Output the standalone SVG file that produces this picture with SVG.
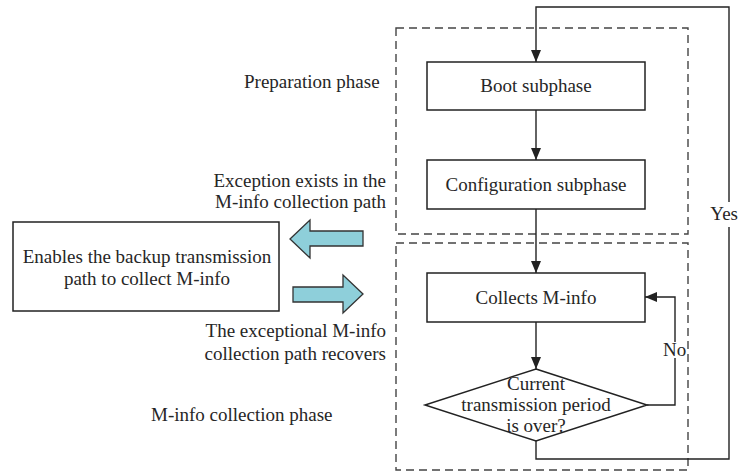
<svg xmlns="http://www.w3.org/2000/svg" width="740" height="472" viewBox="0 0 740 472">
<style>
text{font-family:"Liberation Serif","DejaVu Serif",serif;font-size:19px;fill:#262626}
.c{text-anchor:middle}
.r{text-anchor:end}
.box{fill:#fff;stroke:#222;stroke-width:1.5}
.dash{fill:none;stroke:#444;stroke-width:1.4;stroke-dasharray:8 5}
.ln{fill:none;stroke:#222;stroke-width:1.4}
.blk{fill:#8ecfda;stroke:#333;stroke-width:1.3;stroke-linejoin:miter}
</style>
<defs>
<marker id="ah" markerUnits="userSpaceOnUse" markerWidth="12" markerHeight="10" refX="12" refY="5" orient="auto">
<path d="M0,0 L12,5 L0,10 z" fill="#222"/>
</marker>
</defs>
<g id="phase-prep">
<rect class="dash" x="396" y="28" width="292" height="206"/>
<text x="244" y="88">Preparation phase</text>
</g>
<g id="phase-collect">
<rect class="dash" x="396" y="243" width="292" height="227"/>
<text x="151" y="421">M-info collection phase</text>
</g>
<g id="boot">
<rect class="box" x="427" y="62" width="218" height="48"/>
<text class="c" x="536" y="92">Boot subphase</text>
</g>
<g id="config">
<rect class="box" x="427" y="160" width="218" height="49"/>
<text class="c" x="536" y="191">Configuration subphase</text>
</g>
<g id="collects">
<rect class="box" x="427" y="273" width="218" height="49"/>
<text class="c" x="536" y="304">Collects M-info</text>
</g>
<g id="decision">
<path class="box" d="M536,369 L647,405 L536,441 L425,405 Z"/>
<text class="c" x="536" y="390">Current</text>
<text class="c" x="536" y="411">transmission period</text>
<text class="c" x="536" y="432">is over?</text>
</g>
<g id="backup">
<rect class="box" x="13" y="222" width="266" height="89"/>
<text class="c" x="147" y="263">Enables the backup transmission</text>
<text class="c" x="147" y="285">path to collect M-info</text>
</g>
<g id="arrow-exception">
<path class="blk" d="M290,239 L310,220 L310,231 L363,231 L363,246 L310,246 L310,258 Z"/>
<text class="r" x="386" y="187">Exception exists in the</text>
<text class="r" x="386" y="208">M-info collection path</text>
</g>
<g id="arrow-recover">
<path class="blk" d="M363,294 L343,275 L343,287 L293,287 L293,302 L343,302 L343,313 Z"/>
<text class="r" x="386" y="337">The exceptional M-info</text>
<text class="r" x="386" y="360">collection path recovers</text>
</g>
<g id="connectors">
<path class="ln" d="M536,110 L536,160" marker-end="url(#ah)"/>
<path class="ln" d="M536,209 L536,273" marker-end="url(#ah)"/>
<path class="ln" d="M536,322 L536,369" marker-end="url(#ah)"/>
<path class="ln" d="M647,405 L675,405 L675,358 M675,342 L675,297 L645,297" marker-end="url(#ah)"/>
<text x="663" y="356">No</text>
<path class="ln" d="M536,441 L536,459 L729,459 L729,227 M729,202 L729,7 L536,7 L536,62" marker-end="url(#ah)"/>
<text class="r" x="738" y="220">Yes</text>
</g>
</svg>
